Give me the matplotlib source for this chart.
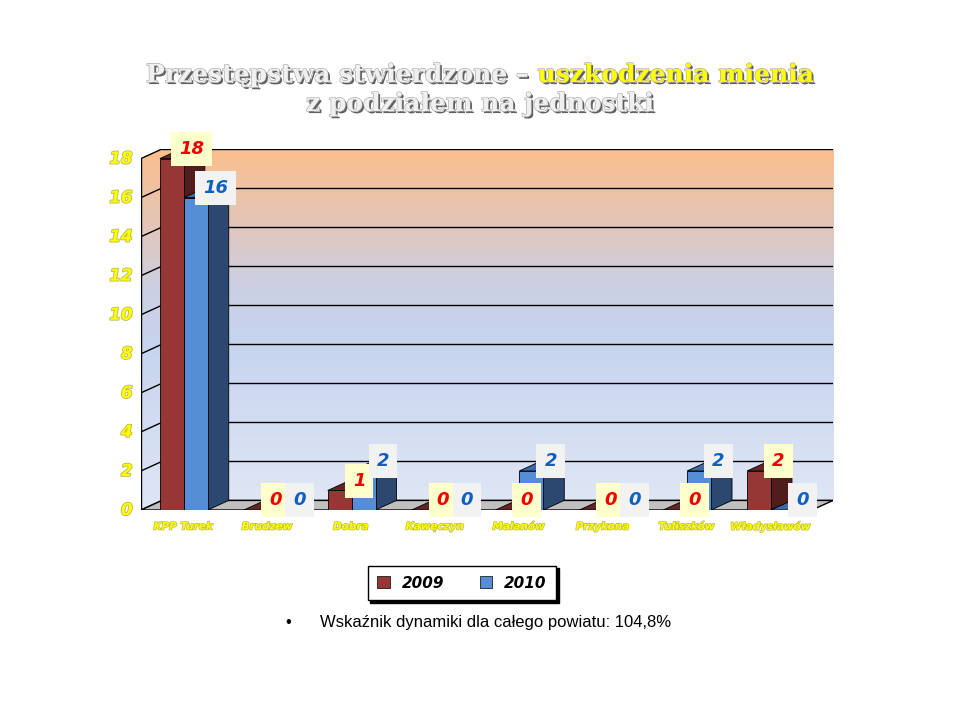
import matplotlib
matplotlib.use('Agg')
import matplotlib.pyplot as plt
import matplotlib.patheffects as pe
from matplotlib.patches import Polygon, Rectangle, Patch
from matplotlib.colors import LinearSegmentedColormap
import numpy as np

categories = ['KPP Turek', 'Brudzew', 'Dobra', 'Kawęczyn', 'Malanów',
              'Przykona', 'Tuliszków', 'Władysławów']
v2009 = [18, 0, 1, 0, 0, 0, 0, 2]
v2010 = [16, 0, 2, 0, 2, 0, 2, 0]
yticks = [0, 2, 4, 6, 8, 10, 12, 14, 16, 18]

# 3d look
DX, DY = 0.25, 0.49
W, X0 = 0.285, 0.226
red = ('#953735', '#632523', '#4f1d1c')
blue = ('#558ed5', '#3d6aa6', '#2c4770')

fig = plt.figure(figsize=(9.6, 7.2), dpi=100)
ax = fig.add_axes([141/960, 1 - 510/720, 692/960, 361/720])
n = len(categories)
ax.set_xlim(0, n + DX)
ax.set_ylim(0, 18 + DY)
ax.axis('off')

# walls gradient
cmap = LinearSegmentedColormap.from_list('wall', [
    (0.0, '#dfe6f5'), (0.45, '#c6d4ee'), (0.62, '#cdcfe2'),
    (0.8, '#e4c5b6'), (1.0, '#fbbf8d')])
grad = np.linspace(0, 1, 256).reshape(-1, 1)
ax.imshow(grad, extent=(DX, n + DX, DY, 18 + DY), origin='lower',
          cmap=cmap, aspect='auto', zorder=0)
left = ax.imshow(grad, extent=(0, DX, 0, 18 + DY), origin='lower',
                 cmap=cmap, aspect='auto', zorder=0)
left.set_clip_path(Polygon([(0, 0), (DX, DY), (DX, 18 + DY), (0, 18)],
                           transform=ax.transData))

for t in yticks:
    ax.plot([DX, n + DX], [t + DY, t + DY], color='black', lw=1, zorder=1)
    ax.plot([0, DX], [t, t + DY], color='black', lw=1, zorder=1)
    ax.text(-0.1, t, str(t), ha='right', va='center', fontsize=12,
            fontweight='bold', style='italic', color='#ffff00',
            path_effects=[pe.withStroke(linewidth=1.2, foreground='#b8b850')])
ax.plot([0, 0], [0, 18], color='black', lw=1, zorder=1)

# floor
ax.add_patch(Polygon([(0, 0), (n, 0), (n + DX, DY), (DX, DY)],
                     facecolor='#c0c0c0', edgecolor='black', lw=1, zorder=1))


def bar3d(x, h, cols):
    front, top, side = cols
    ax.add_patch(Polygon([(x + W, 0), (x + W + DX, DY), (x + W + DX, h + DY), (x + W, h)],
                         facecolor=side, edgecolor='black', lw=0.6, zorder=3))
    ax.add_patch(Polygon([(x, h), (x + W, h), (x + W + DX, h + DY), (x + DX, h + DY)],
                         facecolor=top, edgecolor='black', lw=0.6, zorder=3))
    if h > 0:
        ax.add_patch(Rectangle((x, 0), W, h, facecolor=front,
                               edgecolor='black', lw=0.6, zorder=3))


def label(x, h, txt, color, bg):
    ax.annotate(txt, (x + W / 2, h), xytext=(14, 7), textcoords='offset points',
                ha='center', va='center', fontsize=13, fontweight='bold',
                style='italic', color=color, zorder=5,
                bbox=dict(boxstyle='square,pad=0.45', facecolor=bg, edgecolor='none'))


for i in range(n):
    bar3d(i + X0, v2009[i], red)
    bar3d(i + X0 + W, v2010[i], blue)

for i in range(n):
    label(i + X0, v2009[i], str(v2009[i]), '#ee0000', '#ffffcc')
    label(i + X0 + W, v2010[i], str(v2010[i]), '#1060c0', '#f2f2f2')
    ax.text(i + 0.5, -0.85, categories[i], ha='center', va='center', fontsize=7.5,
            fontweight='bold', style='italic', color='#ffff00',
            path_effects=[pe.withStroke(linewidth=1, foreground='#b8b850')])

# legend
leg = fig.legend(handles=[Patch(facecolor=red[0], edgecolor='black', lw=0.5),
                          Patch(facecolor=blue[0], edgecolor='black', lw=0.5)],
                 labels=['2009', '2010'], loc='center', ncol=2,
                 bbox_to_anchor=(462/960, 1 - 583/720), frameon=True,
                 fancybox=False, shadow={'color': 'black', 'alpha': 1},
                 edgecolor='black', handlelength=0.8, handleheight=0.8,
                 columnspacing=2.3, borderpad=0.65,
                 prop={'weight': 'bold', 'style': 'italic', 'size': 11})
leg.get_frame().set_linewidth(1)

# bullet line
fig.text(288/960, 1 - 623/720, '•', ha='center', va='center', fontsize=12,
         family='Liberation Sans')
fig.text(320/960, 1 - 623/720, 'Wskaźnik dynamiki dla całego powiatu: 104,8%',
         ha='left', va='center', fontsize=12, family='Liberation Sans')

# title
tfx = [pe.SimplePatchShadow(offset=(1.5, -1.5), shadow_rgbFace='#505050', alpha=0.9),
       pe.Stroke(linewidth=0.8, foreground='#a0a0a0'), pe.Normal()]
t_kw = dict(fontsize=18, fontweight='bold', family='DejaVu Serif', va='center',
            path_effects=tfx)
part1 = fig.text(0, 1 - 75/720, 'Przestępstwa stwierdzone – ', color='#f0f0f0', **t_kw)
part2 = fig.text(0, 1 - 75/720, 'uszkodzenia mienia', color='#ffff00', **t_kw)
fig.text(0.5, 1 - 104/720, 'z podziałem na jednostki', color='#f0f0f0',
         ha='center', **t_kw)
fig.canvas.draw()
r = fig.canvas.get_renderer()
w1 = part1.get_window_extent(r).width / 960
w2 = part2.get_window_extent(r).width / 960
x0 = 0.5 - (w1 + w2) / 2
part1.set_x(x0)
part2.set_x(x0 + w1)

fig.savefig('out.png', dpi=100)
